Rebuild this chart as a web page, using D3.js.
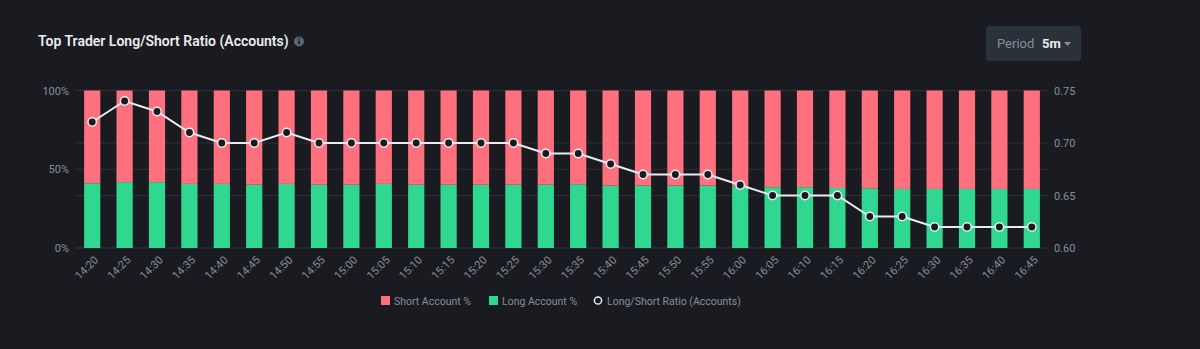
<!DOCTYPE html>
<html lang="en">
<head>
  <meta charset="UTF-8">
  <title>Top Trader Long/Short Ratio (Accounts)</title>
  <script src="https://d3js.org/d3.v7.min.js"></script>
  <style>
    body { margin: 0; background: #1a1b20; }
    svg { display: block; font-family: Roboto, "Noto Sans", sans-serif; }
  </style>
</head>
<body>
  <div id="chart"></div>

  <script>
    // Data
    const times = ["14:20", "14:25", "14:30", "14:35", "14:40", "14:45", "14:50", "14:55", "15:00", "15:05",
                   "15:10", "15:15", "15:20", "15:25", "15:30", "15:35", "15:40", "15:45", "15:50", "15:55",
                   "16:00", "16:05", "16:10", "16:15", "16:20", "16:25", "16:30", "16:35", "16:40", "16:45"];
    const longPct = [41.1, 41.8, 41.8, 40.7, 40.7, 40.2, 40.7, 40.2, 40.2, 40.7,
                     40.2, 40.2, 40.2, 40.2, 40.2, 40.5, 39.6, 39.6, 39.6, 39.6,
                     39.2, 38.6, 38.6, 38.1, 37.9, 37.5, 37.5, 37.5, 37.5, 37.5];
    const ratio = [0.72, 0.74, 0.73, 0.71, 0.70, 0.70, 0.71, 0.70, 0.70, 0.70,
                   0.70, 0.70, 0.70, 0.70, 0.69, 0.69, 0.68, 0.67, 0.67, 0.67,
                   0.66, 0.65, 0.65, 0.65, 0.63, 0.63, 0.62, 0.62, 0.62, 0.62];
    const leftTicks = [0, 50, 100];
    const rightTicks = [0.60, 0.65, 0.70, 0.75];

    const W = 1200, H = 349;
    const plot = { left: 76, right: 1048, top: 90.5, bottom: 248 };

    const red = "#ff707e", green = "#30d791", grey = "#848e9c", grid = "#2b2f36";

    const data = times.map((t, i) => ({ time: t, long: longPct[i], short: 100 - longPct[i], ratio: ratio[i] }));

    const svg = d3.select("#chart").append("svg")
      .attr("width", W)
      .attr("height", H);

    svg.append("rect").attr("width", W).attr("height", H).attr("fill", "#1a1b20");

    // title + info icon
    svg.append("text")
      .attr("x", 38).attr("y", 46)
      .attr("fill", "#eaecef")
      .attr("font-size", 14)
      .attr("font-weight", 600)
      .text("Top Trader Long/Short Ratio (Accounts)");
    svg.append("circle").attr("cx", 299).attr("cy", 41.5).attr("r", 5).attr("fill", "#5e6673");
    svg.append("rect").attr("x", 298.2).attr("y", 40.5).attr("width", 1.6).attr("height", 3.6).attr("fill", "#1a1b20");
    svg.append("circle").attr("cx", 299).attr("cy", 38.7).attr("r", 0.9).attr("fill", "#1a1b20");

    // period selector
    svg.append("rect")
      .attr("x", 986).attr("y", 26).attr("width", 95).attr("height", 35).attr("rx", 4)
      .attr("fill", "#2b3139");
    svg.append("text").attr("x", 997).attr("y", 48).attr("fill", grey).attr("font-size", 13).text("Period");
    svg.append("text").attr("x", 1042).attr("y", 48).attr("fill", "#eaecef").attr("font-size", 13)
      .attr("font-weight", 700).text("5m");
    svg.append("path").attr("d", "M1064,42 L1071,42 L1067.5,46 Z").attr("fill", grey);

    // scales
    const x = d3.scaleBand()
      .domain(times)
      .range([plot.left, plot.right])
      .paddingInner(0.5)
      .paddingOuter(0.25);

    const y = d3.scaleLinear().domain([0, 100]).range([plot.bottom, plot.top]);
    const y2 = d3.scaleLinear().domain([0.60, 0.75]).range([plot.bottom, plot.top]);

    // gridlines
    const gridYs = leftTicks.map(d => y(d)).concat(rightTicks.map(d => y2(d)));
    svg.append("g").selectAll("line")
      .data(gridYs)
      .enter().append("line")
        .attr("x1", plot.left - 1).attr("x2", plot.right)
        .attr("y1", d => d).attr("y2", d => d)
        .attr("stroke", grid)
        .attr("stroke-width", 1);

    // stacked bars
    const stacked = d3.stack().keys(["long", "short"])(data);
    const color = d3.scaleOrdinal().domain(["long", "short"]).range([green, red]);

    svg.append("g").selectAll("g")
      .data(stacked)
      .enter().append("g")
        .attr("fill", d => color(d.key))
      .selectAll("rect")
      .data(d => d)
      .enter().append("rect")
        .attr("x", d => x(d.data.time))
        .attr("y", d => y(d[1]))
        .attr("width", x.bandwidth())
        .attr("height", d => y(d[0]) - y(d[1]));

    // ratio line
    const line = d3.line()
      .x(d => x(d.time) + x.bandwidth() / 2)
      .y(d => y2(d.ratio));

    svg.append("path")
      .datum(data)
      .attr("d", line)
      .attr("fill", "none")
      .attr("stroke", "#eaecef")
      .attr("stroke-width", 2);

    svg.append("g").selectAll("circle")
      .data(data)
      .enter().append("circle")
        .attr("cx", d => x(d.time) + x.bandwidth() / 2)
        .attr("cy", d => y2(d.ratio))
        .attr("r", 4.2)
        .attr("fill", "#1a1b20")
        .attr("stroke", "#eaecef")
        .attr("stroke-width", 1.5);

    // left axis
    const axL = svg.append("g")
      .attr("transform", `translate(${plot.left - 4},0)`)
      .call(d3.axisLeft(y).tickValues(leftTicks).tickFormat(d => d + "%").tickSize(0));
    axL.select(".domain").remove();
    axL.selectAll("text").attr("fill", grey).attr("font-size", 11).attr("font-family", "Roboto, sans-serif");

    // right axis
    const axR = svg.append("g")
      .attr("transform", `translate(${plot.right + 3},0)`)
      .call(d3.axisRight(y2).tickValues(rightTicks).tickFormat(d3.format(".2f")).tickSize(0));
    axR.select(".domain").remove();
    axR.selectAll("text").attr("fill", grey).attr("font-size", 11).attr("font-family", "Roboto, sans-serif");

    // bottom axis
    const axB = svg.append("g")
      .attr("transform", `translate(0,${plot.bottom})`)
      .call(d3.axisBottom(x).tickSize(0));
    axB.select(".domain").remove();
    axB.selectAll("text")
      .attr("fill", grey)
      .attr("font-size", 11)
      .attr("font-family", "Roboto, sans-serif")
      .attr("text-anchor", "end")
      .attr("dy", "0.35em")
      .attr("transform", "translate(4,10) rotate(-45)")
      .attr("y", 0).attr("x", 0);

    // legend
    const lg = svg.append("g").attr("font-size", 10.5);
    lg.append("rect").attr("x", 381).attr("y", 296).attr("width", 9).attr("height", 9).attr("fill", red);
    lg.append("text").attr("x", 394).attr("y", 304.5).attr("fill", grey).text("Short Account %");
    lg.append("rect").attr("x", 489).attr("y", 296).attr("width", 9).attr("height", 9).attr("fill", green);
    lg.append("text").attr("x", 502).attr("y", 304.5).attr("fill", grey).text("Long Account %");
    lg.append("circle").attr("cx", 598).attr("cy", 300.5).attr("r", 3.6)
      .attr("fill", "none").attr("stroke", "#eaecef").attr("stroke-width", 1.5);
    lg.append("text").attr("x", 607).attr("y", 304.5).attr("fill", grey).text("Long/Short Ratio (Accounts)");
  </script>
</body>
</html>
